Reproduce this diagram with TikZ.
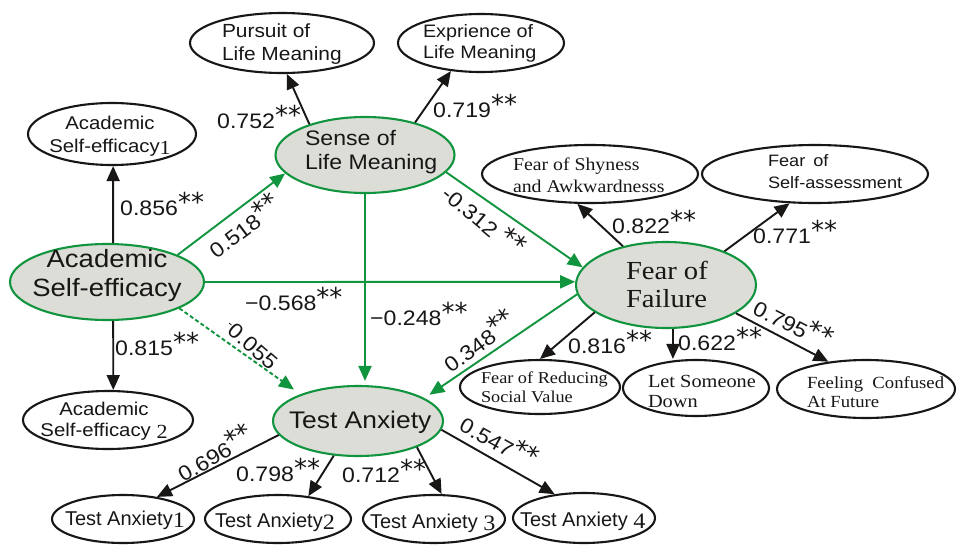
\documentclass[tikz,border=0pt]{standalone}
\usepackage{fontspec}
\usepackage{graphicx}
\setmainfont{Liberation Sans}
\newfontfamily\fsans{Liberation Sans}[FakeStretch=1.1]
\newfontfamily\fplain{Liberation Sans}
\newfontfamily\fserif{Liberation Serif}[FakeStretch=1.1]
\newfontfamily\fdv{DejaVu Sans}
\usetikzlibrary{shapes.geometric,arrows.meta}
\newcommand\myfs[2]{\fontsize{#1}{#2}\selectfont}
\newcommand\sig{\raisebox{4pt}{\fdv\myfs{26}{26}**}}
\newcommand\sdig[2]{\raisebox{-2pt}{\fserif\myfs{#1}{#1}#2}}
\definecolor{semgreen}{RGB}{16,148,62}
\definecolor{latfill}{RGB}{221,221,216}
\definecolor{ink}{RGB}{25,22,22}
\tikzset{
  obs/.style={draw=ink, line width=2.1pt, ellipse, inner sep=0pt},
  lat/.style={draw=semgreen, fill=latfill, line width=2.1pt, ellipse, inner sep=0pt},
  txt/.style={inner sep=0pt, outer sep=0pt, text=ink},
  lbl/.style={inner sep=0pt, text=ink, font=\fsans\myfs{21}{21}},
  blk/.style={draw=ink, line width=1.9pt, -{Triangle[length=15pt,width=13pt]}},
  grn/.style={draw=semgreen, line width=1.9pt, -{Triangle[length=15pt,width=13pt]}},
}
\begin{document}
\begin{tikzpicture}[x=1pt,y=-1pt]
\fill[white] (0,0) rectangle (959,544);
\useasboundingbox (0,0) rectangle (959,544);

% ellipses
\node[lat, minimum width=194pt, minimum height=76pt] (ase) at (107,282) {};
\node[obs, minimum width=168pt, minimum height=62pt] (ase1) at (112,134) {};
\node[obs, minimum width=170pt, minimum height=58pt] (ase2) at (108,420) {};
\node[obs, minimum width=184pt, minimum height=60pt] (pur) at (282,43) {};
\node[obs, minimum width=166pt, minimum height=58pt] (exp) at (481,43) {};
\node[lat, minimum width=179pt, minimum height=76pt] (slm) at (365,155) {};
\node[lat, minimum width=180pt, minimum height=86pt] (fof) at (666,285) {};
\node[obs, minimum width=216pt, minimum height=58pt] (shy) at (590,174) {};
\node[obs, minimum width=226pt, minimum height=58pt] (self) at (815,174) {};
\node[obs, minimum width=160pt, minimum height=54pt] (red) at (540,387) {};
\node[obs, minimum width=146pt, minimum height=56pt] (let) at (696,388) {};
\node[obs, minimum width=178pt, minimum height=58pt] (conf) at (866,389) {};
\node[lat, minimum width=170pt, minimum height=70pt] (ta) at (358,421) {};
\node[obs, minimum width=142pt, minimum height=48pt] (ta1) at (123,519) {};
\node[obs, minimum width=146pt, minimum height=48pt] (ta2) at (278,519) {};
\node[obs, minimum width=142pt, minimum height=48pt] (ta3) at (434,519) {};
\node[obs, minimum width=142pt, minimum height=50pt] (ta4) at (584,518) {};

% texts
\node[txt, align=center, font=\fsans\myfs{25}{29}] (ase-t) at (107,276) {Academic\\Self-efficacy};
\node[txt, align=center, font=\fsans\myfs{18.5}{23}] (ase1-t) at (110,136) {Academic\\Self-efficacy\sdig{20}{1}};
\node[txt, align=center, font=\fsans\myfs{18.5}{21}] (ase2-t) at (104,421) {Academic\\Self-efficacy \sdig{20}{2}};
\node[txt, align=left, anchor=west, font=\fsans\myfs{19}{23}] (pur-t) at (222,44) {Pursuit of\\Life Meaning};
\node[txt, align=left, anchor=west, font=\fsans\myfs{18}{21}] (exp-t) at (423,43) {Exprience of\\Life Meaning};
\node[txt, align=left, anchor=west, font=\fsans\myfs{21}{24}] (slm-t) at (305,152.5) {Sense of\\Life Meaning};
\node[txt, align=left, anchor=west, font=\fserif\myfs{26}{28}] (fof-t) at (626,284) {Fear of\\Failure};
\node[txt, align=left, anchor=west, font=\fserif\myfs{18}{22}] (shy-t) at (513,175) {Fear of Shyness\\and Awkwardnesss};
\node[txt, align=left, anchor=west, font=\fsans\myfs{16.5}{22}] (self-t) at (768,172) {Fear\hspace{3pt} of\\Self-assessment};
\node[txt, align=left, anchor=west, font=\fserif\myfs{16.6}{19}] (red-t) at (481,387) {Fear of Reducing\\Social Value};
\node[txt, align=left, anchor=west, font=\fserif\myfs{18.5}{20}] (let-t) at (648,391) {Let Someone\\Down};
\node[txt, align=left, anchor=west, font=\fserif\myfs{17}{19}] (conf-t) at (807,392) {Feeling~~Confused\\At Future};
\node[txt, anchor=base west, font=\fsans\myfs{24}{24}] (ta-t) at (289,428) {Test Anxiety};
\node[txt, anchor=base west, font=\fplain\myfs{20}{20}] (ta1-t) at (65,525) {Test Anxiety\sdig{22}{1}};
\node[txt, anchor=base west, font=\fplain\myfs{20}{20}] (ta2-t) at (215,527) {Test Anxiety\sdig{22}{2}};
\node[txt, anchor=base west, font=\fplain\myfs{20}{20}] (ta3-t) at (370,528) {Test Anxiety \sdig{22}{3}};
\node[txt, anchor=base west, font=\fplain\myfs{20}{20}] (ta4-t) at (520,526) {Test Anxiety \sdig{22}{4}};

% connectors
\draw[blk] (ase.81) -- (ase1.-88);
\draw[blk] (ase.-81) -- (ase2.80);
\draw[blk] (slm.151) -- (pur.-81);
\draw[blk] (slm.33) -- (exp.-137);
\draw[grn] (ase.21) -- (slm.-167);
\draw[grn] (ase.0) -- (fof.178);
\draw[grn, shorten >=4pt] (slm.south) -- (slm.south |- ta.north);
\draw[grn] (slm.-12) -- (fof.168);
\draw[grn, shorten >=6pt] (fof.-174) -- (ta.19);
\draw[grn, dash pattern=on 4pt off 2.5pt, shorten >=8pt] (ase.-20) -- (ta.155);
\draw[blk] (fof.138) -- (shy.-113);
\draw[blk] (fof.30) -- (self.-131);
\draw[blk] (fof.-159) -- (red.90);
\draw[blk] (fof.-81) -- (fof.-81 |- let.north);
\draw[blk] (fof.-22) -- (conf.144);
\draw[blk] (ta.190) -- (ta1.33);
\draw[blk] (ta.-125) -- (ta2.37);
\draw[blk] (ta.-24) -- (ta3.73);
\draw[blk] (ta.-6) -- (ta4.141);

% coefficient labels
\node[lbl, anchor=base west] (l856) at (120,215) {0.856\sig};
\node[lbl, anchor=base west] (l815) at (115,355) {0.815\sig};
\node[lbl, anchor=base west] (l752) at (217,128) {0.752\sig};
\node[lbl, anchor=base west] (l719) at (433,117) {0.719\sig};
\node[lbl, anchor=base west] (l568) at (245,310) {−0.568\sig};
\node[lbl, anchor=base west] (l248) at (370,325) {−0.248\sig};
\node[lbl, anchor=base west] (l822) at (612,233) {0.822\sig};
\node[lbl, anchor=base west] (l771) at (753,243) {0.771\sig};
\node[lbl, anchor=base west] (l816) at (568,353) {0.816\sig};
\node[lbl, anchor=base west] (l622) at (678,350) {0.622\sig};
\node[lbl, anchor=base west] (l798) at (236,481) {0.798\sig};
\node[lbl, anchor=base west] (l712) at (342,482) {0.712\sig};
\node[lbl, rotate=37] (l518) at (243,225) {0.518\sig};
\node[lbl, rotate=-40] (l312) at (485,219) {-0.312 \sig};
\node[lbl, rotate=36] (l348) at (478,340) {0.348\sig};
\node[lbl, rotate=-41] (l055) at (251,345) {\raisebox{6pt}{\myfs{12}{12}-}0.055};
\node[lbl, rotate=-27] (l795) at (794,322) {0.795\sig};
\node[lbl, rotate=30] (l696) at (214,452) {0.696\sig};
\node[lbl, rotate=-29] (l547) at (500,440) {0.547\sig};
\end{tikzpicture}
\end{document}
